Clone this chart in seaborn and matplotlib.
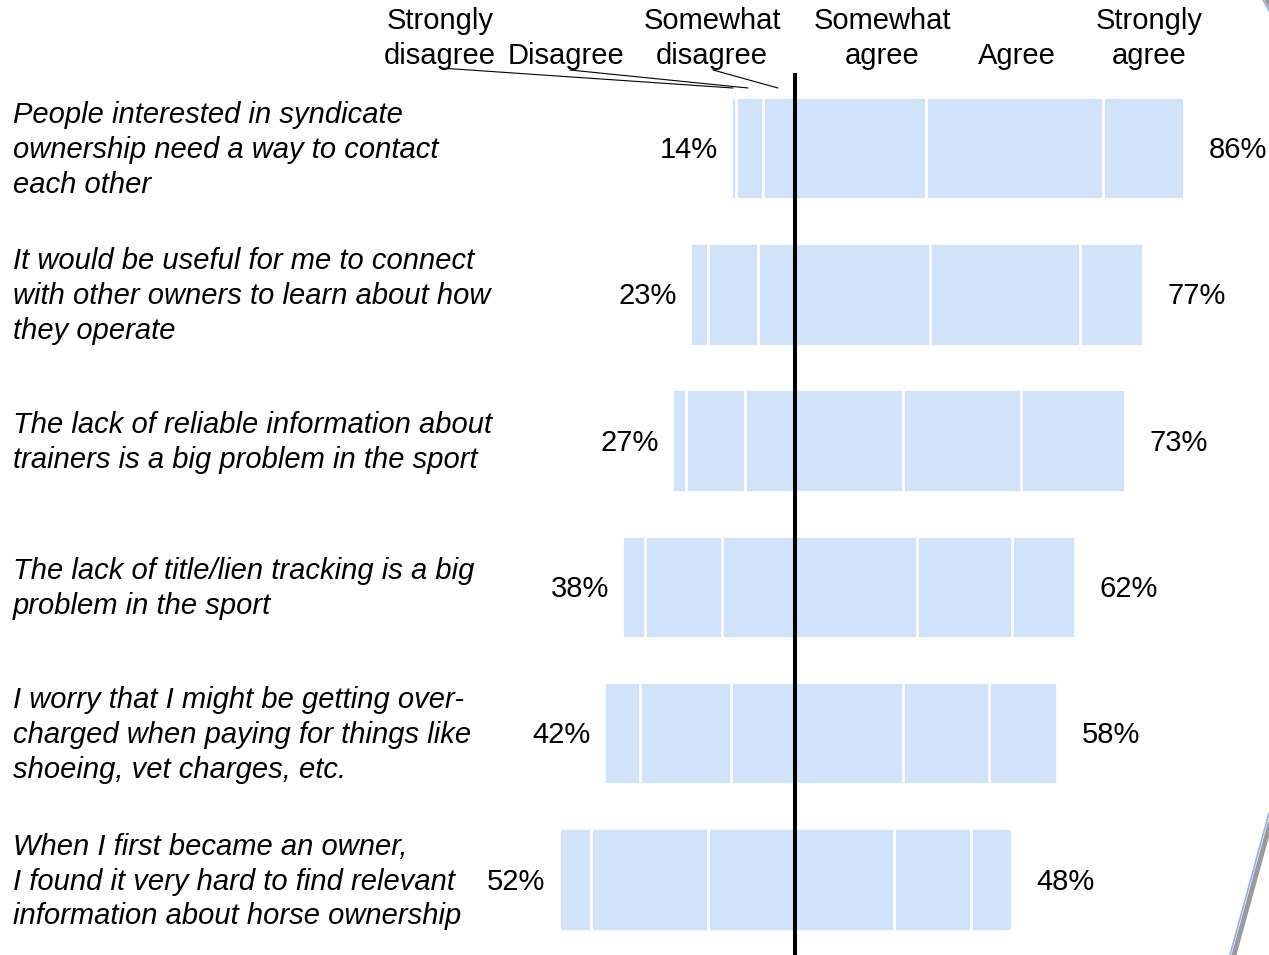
import pandas as pd
import seaborn as sns
import matplotlib.pyplot as plt
from matplotlib.lines import Line2D

# survey statements, top to bottom
statements = [
    'People interested in syndicate\nownership need a way to contact\neach other',
    'It would be useful for me to connect\nwith other owners to learn about how\nthey operate',
    'The lack of reliable information about\ntrainers is a big problem in the sport',
    'The lack of title/lien tracking is a big\nproblem in the sport',
    'I worry that I might be getting over-\ncharged when paying for things like\nshoeing, vet charges, etc.',
    'When I first became an owner,\nI found it very hard to find relevant\ninformation about horse ownership',
]
header_labels = ['Strongly\ndisagree', 'Disagree', 'Somewhat\ndisagree',
                 'Somewhat\nagree', 'Agree', 'Strongly\nagree']

# percent of respondents per answer
strongly_disagree = [1, 4, 3, 5, 8, 7]
disagree = [6, 11, 13, 17, 20, 26]
somewhat_disagree = [7, 8, 11, 16, 14, 19]
somewhat_agree = [29, 30, 24, 27, 24, 22]
agree = [39, 33, 26, 21, 19, 17]
strongly_agree = [18, 14, 23, 14, 15, 9]

W, H = 1269, 955
PX = 4.53          # pixels per percent
X0 = 794.5         # pixel position of the zero line
ROW0, ROWSTEP = 148, 146.3
BAR_COLOR = '#d1e3fa'
FS = 21
TXT_DY = 2 / ROWSTEP   # nudge labels down a couple of pixels

sns.set_style('white')
plt.rcParams['font.family'] = ['Liberation Sans', 'DejaVu Sans']
plt.rcParams['text.color'] = 'black'


def ypx(y):
    '''pixel row -> data row'''
    return (y - ROW0) / ROWSTEP


df = pd.DataFrame({
    'statement': statements,
    'sd': strongly_disagree, 'd': disagree, 'swd': somewhat_disagree,
    'swa': somewhat_agree, 'a': agree, 'sa': strongly_agree,
})
df['neg'] = df['sd'] + df['d'] + df['swd']
df['pos'] = df['swa'] + df['a'] + df['sa']

# cumulative layers, outermost first so inner ones sit on top
layers = [
    -df['neg'], -(df['d'] + df['swd']), -df['swd'],
    df['pos'], df['swa'] + df['a'], df['swa'],
]

fig = plt.figure(figsize=(W / 100, H / 100), dpi=100)
ax = fig.add_axes([0, 0, 1, 1])

for vals in layers:
    sns.barplot(x=vals, y=df['statement'], order=statements, orient='h',
                color=BAR_COLOR, saturation=1, edgecolor='white',
                linewidth=2, width=0.7, errorbar=None, ax=ax)

ax.set_xlim(-X0 / PX, (W - X0) / PX)
ax.set_ylim(ypx(H), ypx(0))
ax.axis('off')

# zero line
ax.plot([0, 0], [ypx(73), ypx(H)], color='black', lw=2.9, solid_capstyle='butt')

# statement labels and totals
for i, row in df.iterrows():
    y = i + TXT_DY
    ax.text(-(X0 - 13) / PX, y, row['statement'], ha='left', va='center',
            fontsize=FS, style='italic', linespacing=1.31)
    ax.text(-row['neg'] - 3.0, y, f"{row['neg']}%", ha='right', va='center',
            fontsize=FS)
    ax.text(row['pos'] + 5.4, y, f"{row['pos']}%", ha='left', va='center',
            fontsize=FS)

# column headers
header_x = [440, 566, 712, 882, 1017, 1149]
for lab, hx in zip(header_labels, header_x):
    lines_ = lab.split('\n')[::-1]
    for k, txt in enumerate(lines_):
        base = 64 - 35 * k
        fig.text(hx / W, 1 - base / H, txt, ha='center', va='baseline',
                 fontsize=FS)

# leader lines from headers to the thin segments
leaders = [((440, 68), (733, 88)), ((570, 70), (748, 88)), ((713, 70), (778, 88))]
for (x1, y1), (x2, y2) in leaders:
    fig.add_artist(Line2D([x1 / W, x2 / W], [1 - y1 / H, 1 - y2 / H],
                          color='black', lw=0.8, transform=fig.transFigure))

# slide decoration at the right edge
for (x1, y1), (x2, y2) in [((1269, 813), (1230, 955)), ((1263, 0), (1271, 14))]:
    fig.add_artist(Line2D([(x1 + 4) / W, (x2 + 4) / W], [1 - y1 / H, 1 - y2 / H],
                          color='#9a9a9a', lw=3.5, transform=fig.transFigure))
    fig.add_artist(Line2D([x1 / W, x2 / W], [1 - y1 / H, 1 - y2 / H],
                          color='#8fb0f0', lw=1.2, transform=fig.transFigure))

fig.savefig('out.png', dpi=100)
